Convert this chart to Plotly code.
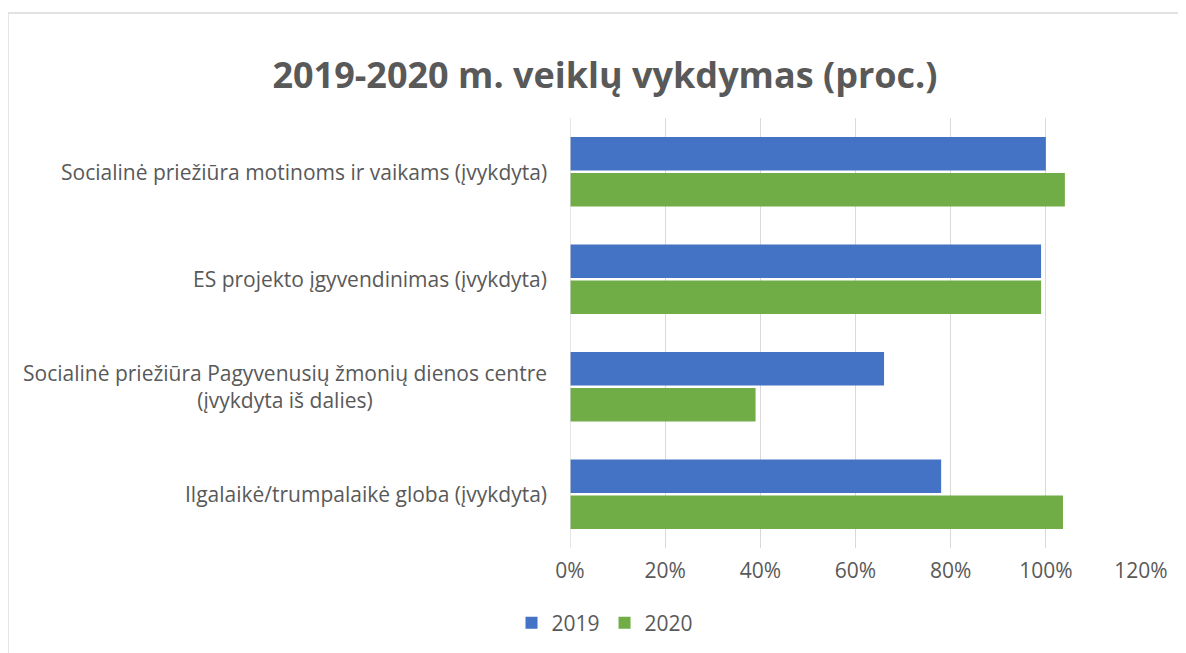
import plotly.graph_objects as go

categories = [
    "Socialinė priežiūra motinoms ir vaikams (įvykdyta)",
    "ES projekto įgyvendinimas (įvykdyta)",
    "Socialinė priežiūra Pagyvenusių žmonių dienos centre<br>(įvykdyta iš dalies)",
    "Ilgalaikė/trumpalaikė globa (įvykdyta)",
]
series_names = ["2019", "2020"]
values_2019 = [1.00, 0.99, 0.66, 0.78]
values_2020 = [1.04, 0.99, 0.39, 1.036]
tick_vals = [0, 0.2, 0.4, 0.6, 0.8, 1.0, 1.2]
tick_text = ["0%", "20%", "40%", "60%", "80%", "100%", "120%"]
title_text = "2019-2020 m. veiklų vykdymas (proc.)"

FONT = "Open Sans"
GRAY = "#595959"
# page has an 8px body margin; figure coords = page coords - 8
W, H = 1178, 645
L, R, T, B = 562, 45, 110, 105
CX = 597  # horizontal centre for title / legend

fig = go.Figure()
fig.add_trace(go.Bar(
    y=categories, x=values_2019, name=series_names[0], orientation="h",
    marker=dict(color="#4472C4", line=dict(width=0)),
))
fig.add_trace(go.Bar(
    y=categories, x=values_2020, name=series_names[1], orientation="h",
    marker=dict(color="#70AD47", line=dict(width=0)),
))

annotations = []
for c in categories:
    annotations.append(dict(
        x=0, xref="paper", y=c, yref="y", text=c, showarrow=False,
        xanchor="right", yanchor="middle", align="center", xshift=-21,
        font=dict(family=FONT, size=21, color=GRAY),
    ))

fig.update_layout(
    width=W, height=H,
    margin=dict(l=L, r=R, t=T, b=B, pad=0),
    paper_bgcolor="white", plot_bgcolor="white",
    barmode="group", bargap=0.33, bargroupgap=0.07,
    title=dict(text=f"<b>{title_text}</b>", x=CX / W, xref="container",
               xanchor="center", y=1 - 67 / H, yref="container", yanchor="middle",
               font=dict(family=FONT, size=36, color=GRAY)),
    xaxis=dict(range=[0, 1.2], tickvals=tick_vals, ticktext=tick_text,
               showgrid=True, gridcolor="#D9D9D9", gridwidth=1.3,
               zeroline=False, showline=False, ticks="", ticklabelstandoff=8,
               tickfont=dict(family=FONT, size=21, color=GRAY)),
    yaxis=dict(autorange="reversed", showticklabels=False, showgrid=False,
               zeroline=False, showline=False, ticks=""),
    legend=dict(orientation="h", x=CX / W, xref="container", xanchor="center",
                y=1 - 615 / H, yref="container", yanchor="middle",
                font=dict(family=FONT, size=21, color=GRAY),
                itemwidth=30, traceorder="normal"),
    annotations=annotations,
    showlegend=True,
)
# chart border
pw, ph = W - L - R, H - T - B
fig.add_shape(type="rect", xref="paper", yref="paper",
              x0=(0 - L) / pw, x1=(W + 20 - L) / pw,
              y0=-(B + 20) / ph, y1=(H - 5 - B) / ph,
              line=dict(color="#D9D9D9", width=1.3), fillcolor="rgba(0,0,0,0)", layer="below")
# 0% axis line
fig.add_vline(x=0, line=dict(color="#D9D9D9", width=1.3))

fig.write_html("out.html")
